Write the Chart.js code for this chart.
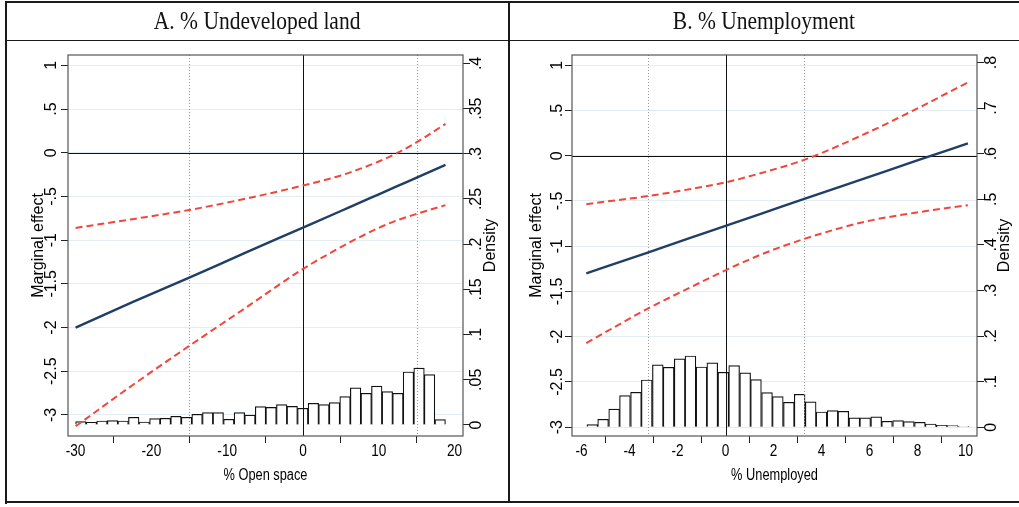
<!DOCTYPE html>
<html>
<head>
<meta charset="utf-8">
<script src="https://cdn.jsdelivr.net/npm/chart.js@4.4.1/dist/chart.umd.min.js"></script>
<style>
  body { margin: 0; background: #fff; }
  #page { position: relative; width: 1019px; height: 507px; overflow: hidden; background: #fff; }
  canvas { position: absolute; top: 0; }
  .title { position: absolute; top: 2px; height: 38px; line-height: 38px; text-align: center;
           font-family: 'Liberation Serif', 'DejaVu Serif', serif; font-size: 25px; color: #111; }
  .title span { display: inline-block; transform: scaleX(0.86); }
  .rule { position: absolute; background: #1a1a1a; }
</style>
</head>
<body>
<div id="page">
  <canvas id="chartA" width="509" height="507" style="left:0"></canvas>
  <canvas id="chartB" width="510" height="507" style="left:509px"></canvas>
  <div class="title" style="left:6px;width:503px"><span>A. % Undeveloped land</span></div>
  <div class="title" style="left:509px;width:510px"><span>B. % Unemployment</span></div>
  <div class="rule" style="left:5px;top:1px;width:1014px;height:2px"></div>
  <div class="rule" style="left:5px;top:1px;width:2px;height:503px"></div>
  <div class="rule" style="left:5px;top:501px;width:1014px;height:2px"></div>
  <div class="rule" style="left:508px;top:1px;width:1.5px;height:502px"></div>
  <div class="rule" style="left:6px;top:40px;width:1013px;height:1px"></div>
</div>
<script>
// ---- Panel A: % Undeveloped land ----
const xA      = [-30, -22.5, -15, -7.5, 0, 5, 7.5, 10, 12.5, 15, 18.8];
const effectA = [-2.0, -1.71, -1.43, -1.14, -0.857, -0.667, -0.57, -0.476, -0.38, -0.286, -0.14];
const upperA  = [-0.86, -0.76, -0.655, -0.525, -0.375, -0.26, -0.185, -0.10, 0.0, 0.12, 0.33];
const lowerA  = [-3.13, -2.66, -2.21, -1.77, -1.33, -1.08, -0.965, -0.86, -0.77, -0.70, -0.60];

// histogram of % open space (bin centres, density)
const binsA = [-29.30, -27.91, -26.52, -25.12, -23.73, -22.33, -20.94, -19.54, -18.15, -16.76,
               -15.36, -13.97, -12.57, -11.18, -9.79, -8.39, -7.00, -5.60, -4.21, -2.81,
               -1.42, -0.03, 1.37, 2.76, 4.16, 5.55, 6.94, 8.34, 9.73, 11.13,
               12.52, 13.91, 15.31, 16.70, 18.10];
const densA = [0.0037, 0.0030, 0.0044, 0.0048, 0.0044, 0.0085, 0.0033, 0.0070, 0.0074, 0.0096,
               0.0085, 0.0118, 0.0136, 0.0136, 0.0063, 0.0136, 0.0110, 0.0203, 0.0195, 0.0225,
               0.0206, 0.0184, 0.0240, 0.0225, 0.0247, 0.0313, 0.0410, 0.0350, 0.0431, 0.0369,
               0.0350, 0.0586, 0.0630, 0.0557, 0.0059];

const xTicksA = [-30, -20, -10, 0, 10, 20];
const dTicksA = [0, 0.05, 0.1, 0.15, 0.2, 0.25, 0.3, 0.35, 0.4];
const xDotsA  = [-15, 15];

// ---- Panel B: % Unemployment ----
const xB      = [-5.8, -3.24, -1.5, 0, 1.5, 3.25, 5.8, 7.9, 10.1];
const effectB = [-1.30, -1.07, -0.91, -0.776, -0.64, -0.48, -0.25, -0.06, 0.137];
const upperB  = [-0.535, -0.446, -0.37, -0.295, -0.19, -0.048, 0.24, 0.51, 0.81];
const lowerB  = [-2.07, -1.69, -1.46, -1.266, -1.09, -0.922, -0.73, -0.63, -0.546];

const binsB = [-5.55, -5.10, -4.64, -4.19, -3.73, -3.28, -2.82, -2.37, -1.91, -1.46,
               -1.00, -0.55, -0.09, 0.36, 0.82, 1.27, 1.73, 2.18, 2.64, 3.09,
               3.55, 4.00, 4.46, 4.91, 5.37, 5.82, 6.28, 6.73, 7.19, 7.64,
               8.10, 8.55, 9.01, 9.46, 9.92];
const densB = [0.0058, 0.0175, 0.0400, 0.0694, 0.0768, 0.1038, 0.1367, 0.1316, 0.1499, 0.1564,
               0.1323, 0.1411, 0.1206, 0.1352, 0.1192, 0.1045, 0.0760, 0.0673, 0.0548, 0.0724,
               0.0556, 0.0336, 0.0365, 0.0351, 0.0205, 0.0205, 0.0227, 0.0132, 0.0146, 0.0124,
               0.0110, 0.0073, 0.0044, 0.0037, 0.0015];

const xTicksB = [-6, -4, -2, 0, 2, 4, 6, 8, 10];
const dTicksB = [0, 0.1, 0.2, 0.3, 0.4, 0.5, 0.6, 0.7, 0.8];
const xDotsB  = [-3.22, 3.27];

const yTicks = [-3, -2.5, -2, -1.5, -1, -0.5, 0, 0.5, 1];

const BLUE = '#1f3f66';
const RED = '#f0463c';
const SANS = '"Liberation Sans", Arial, Helvetica, sans-serif';

// Stata style: ".5", "-.5", "0"
function fmt(v) {
    const s = String(+v.toFixed(2));
    return s.replace(/^(-?)0\./, '$1.');
}

function pts(xs, ys) {
    return xs.map((x, i) => ({ x: x, y: ys[i] }));
}

const stataPlugin = {
    id: 'stata',
    // reference lines sit above the histogram but under the fitted lines
    afterDatasetDraw(chart, args, o) {
        if (args.index !== 0) return;
        const ctx = chart.ctx, a = chart.chartArea;
        const sx = chart.scales.x, sy = chart.scales.y;
        ctx.save();
        ctx.strokeStyle = '#999';
        ctx.lineWidth = 1;
        ctx.setLineDash([1, 2]);
        o.xDots.forEach(v => {
            const px = Math.round(sx.getPixelForValue(v)) + 0.5;
            ctx.beginPath(); ctx.moveTo(px, a.top); ctx.lineTo(px, a.bottom); ctx.stroke();
        });
        ctx.setLineDash([]);
        ctx.strokeStyle = '#111';
        const px0 = Math.round(sx.getPixelForValue(0)) + 0.5;
        ctx.beginPath(); ctx.moveTo(px0, a.top); ctx.lineTo(px0, a.bottom); ctx.stroke();
        const py0 = Math.round(sy.getPixelForValue(0)) + 0.5;
        ctx.beginPath(); ctx.moveTo(a.left, py0); ctx.lineTo(a.right, py0); ctx.stroke();
        ctx.restore();
    },
    afterDraw(chart, args, o) {
        const ctx = chart.ctx, a = chart.chartArea;
        const sx = chart.scales.x, sy = chart.scales.y, sd = chart.scales.y2;
        ctx.save();
        // plot frame
        ctx.strokeStyle = '#555';
        ctx.lineWidth = 1.2;
        ctx.strokeRect(a.left, a.top, a.right - a.left, a.bottom - a.top);

        ctx.fillStyle = '#000';
        ctx.textAlign = 'center';
        ctx.textBaseline = 'middle';

        // x tick labels and title (narrow)
        ctx.font = '16px ' + SANS;
        sx.ticks.forEach(t => {
            ctx.save();
            ctx.translate(sx.getPixelForValue(t.value), o.xLabelY);
            ctx.scale(0.85, 1);
            ctx.fillText(fmt(t.value), 0, 0);
            ctx.restore();
        });
        ctx.font = '16px ' + SANS;
        ctx.save();
        ctx.translate((a.left + a.right) / 2, o.xTitleY);
        ctx.scale(0.8, 1);
        ctx.fillText(o.xTitle, 0, 0);
        ctx.restore();

        // vertical axes, labels read bottom to top
        ctx.font = '16px ' + SANS;
        sy.ticks.forEach(t => {
            ctx.save();
            ctx.translate(a.left - o.yLabelGap, sy.getPixelForValue(t.value));
            ctx.rotate(-Math.PI / 2);
            ctx.fillText(fmt(t.value), 0, 0);
            ctx.restore();
        });
        sd.ticks.forEach(t => {
            ctx.save();
            ctx.translate(a.right + o.dLabelGap, sd.getPixelForValue(t.value));
            ctx.rotate(-Math.PI / 2);
            ctx.fillText(fmt(t.value), 0, 0);
            ctx.restore();
        });
        ctx.font = '16px ' + SANS;
        ctx.save();
        ctx.translate(a.left - o.yTitleGap, (a.top + a.bottom) / 2);
        ctx.rotate(-Math.PI / 2);
        ctx.fillText('Marginal effect', 0, 0);
        ctx.restore();
        ctx.save();
        ctx.translate(a.right + o.dTitleGap, (a.top + a.bottom) / 2);
        ctx.rotate(-Math.PI / 2);
        ctx.fillText('Density', 0, 0);
        ctx.restore();
        ctx.restore();
    }
};

function makePanel(id, p) {
    const tickGrid = { drawOnChartArea: false, drawTicks: true, tickLength: 7, tickColor: '#222', lineWidth: 1 };
    new Chart(document.getElementById(id), {
        type: 'line',
        data: {
            datasets: [
                {
                    type: 'bar', label: 'Density', yAxisID: 'y2', order: 3,
                    data: pts(p.bins, p.dens),
                    backgroundColor: '#fff', borderColor: '#111', borderWidth: 1.2,
                    barPercentage: 1, categoryPercentage: 1
                },
                {
                    label: 'Marginal effect', yAxisID: 'y', order: 1,
                    data: pts(p.x, p.effect),
                    borderColor: BLUE, borderWidth: 2.4, pointRadius: 0,
                    cubicInterpolationMode: 'monotone'
                },
                {
                    label: 'Upper', yAxisID: 'y', order: 2,
                    data: pts(p.x, p.upper),
                    borderColor: RED, borderWidth: 2, borderDash: [7, 4], pointRadius: 0,
                    cubicInterpolationMode: 'monotone'
                },
                {
                    label: 'Lower', yAxisID: 'y', order: 2,
                    data: pts(p.x, p.lower),
                    borderColor: RED, borderWidth: 2, borderDash: [7, 4], pointRadius: 0,
                    cubicInterpolationMode: 'monotone'
                }
            ]
        },
        options: {
            responsive: false,
            animation: false,
            layout: { padding: { top: 55, left: 0, right: 0, bottom: 0 } },
            plugins: {
                legend: { display: false },
                tooltip: { enabled: false },
                stata: p.labels
            },
            scales: {
                x: {
                    type: 'linear', position: 'bottom', offset: false,
                    min: p.xMin, max: p.xMax,
                    afterBuildTicks: s => { s.ticks = p.xTicks.map(v => ({ value: v })); },
                    afterFit: s => { s.height = p.xAxisH; },
                    ticks: { display: false },
                    grid: tickGrid,
                    border: { display: false }
                },
                y: {
                    type: 'linear', position: 'left',
                    min: p.yMin, max: p.yMax,
                    afterBuildTicks: s => { s.ticks = yTicks.map(v => ({ value: v })); },
                    afterFit: s => { s.width = p.yAxisW; },
                    ticks: { display: false },
                    grid: { drawOnChartArea: true, color: '#e4eef1', lineWidth: 1, drawTicks: true, tickLength: 7, tickColor: '#222' },
                    border: { display: false }
                },
                y2: {
                    type: 'linear', position: 'right',
                    min: p.dMin, max: p.dMax,
                    afterBuildTicks: s => { s.ticks = p.dTicks.map(v => ({ value: v })); },
                    afterFit: s => { s.width = p.dAxisW; },
                    ticks: { display: false },
                    grid: tickGrid,
                    border: { display: false }
                }
            }
        },
        plugins: [stataPlugin]
    });
}

makePanel('chartA', {
    x: xA, effect: effectA, upper: upperA, lower: lowerA,
    bins: binsA, dens: densA, xTicks: xTicksA, dTicks: dTicksA,
    xMin: -31.0, xMax: 21.11, yMin: -3.241, yMax: 1.118, dMin: -0.0122, dMax: 0.4093,
    yAxisW: 68, dAxisW: 46, xAxisH: 71,
    labels: { xDots: xDotsA, xTitle: '% Open space', xLabelY: 452, xTitleY: 476,
              yLabelGap: 16, yTitleGap: 29, dLabelGap: 14, dTitleGap: 28 }
});

makePanel('chartB', {
    x: xB, effect: effectB, upper: upperB, lower: lowerB,
    bins: binsB, dens: densB, xTicks: xTicksB, dTicks: dTicksB,
    xMin: -6.396, xMax: 10.479, yMin: -3.097, yMax: 1.113, dMin: -0.0191, dMax: 0.8164,
    yAxisW: 63, dAxisW: 42, xAxisH: 71,
    labels: { xDots: xDotsB, xTitle: '% Unemployed', xLabelY: 452, xTitleY: 476,
              yLabelGap: 14, yTitleGap: 35, dLabelGap: 15, dTitleGap: 28 }
});
</script>
</body>
</html>
